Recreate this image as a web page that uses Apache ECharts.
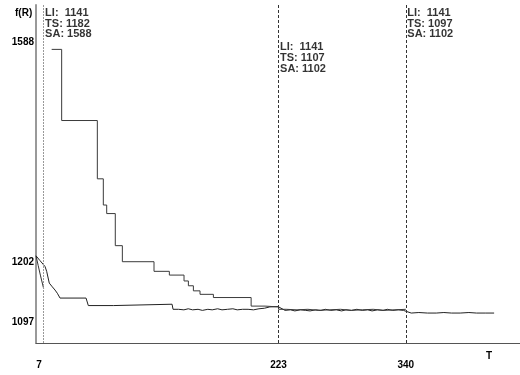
<!DOCTYPE html>
<html><head><meta charset="utf-8">
<script src="https://cdn.jsdelivr.net/npm/echarts@6/dist/echarts.min.js"></script>
<style>html,body{margin:0;padding:0;background:#fff}#c{width:520px;height:375px}</style>
</head><body><div id="c"></div>
<script>
// ---- data ----
const xTicks = [7, 223, 340];
const yTicks = [1097, 1202, 1588];
const yAxisTitle = 'f(R)';
const xAxisTitle = 'T';

const liSeries = [[0,1202],[2,1184],[4,1166],[7,1141]];

const tsSeries = [[0,1202],[3.7,1193],[8.3,1182],[9.8,1173],[12.2,1151],[15,1144],[17.5,1138],[19.6,1132],[22.1,1123],
 [46,1123],[48.1,1109],[71.1,1109],[71.7,1111.5],[125.1,1111.5],[126,1102],
 [131,1102],[136,1101],[140,1103],[144,1101],[149,1102],[153,1100],[158,1102],[162,1101],[167,1103],[171,1101],
 [176,1102],[181,1103],[185,1101],[190,1102],[195,1102],[200,1101],[205,1103],[210,1104],[215,1106.5],[222.6,1107],
 [229,1100],[234,1101],[238,1099],[243,1101],[248,1100],[252,1099],[257,1101],[262,1100],[266,1102],[271,1100],
 [276,1101],[281,1099],[285,1101],[290,1100],[295,1102],[300,1100],[305,1101],[309,1099],[314,1101],[319,1100],
 [323,1102],[328,1100],[333,1101],[337.8,1100],[339.4,1097],[345,1095],[352,1096],[360,1095],[368,1095],
 [375,1096],[382,1095],[390,1095],[398,1096],[405,1095],[413,1095],[421.2,1095]];

const saSeries = [[14.4,1588],[23.6,1455],[56.4,1346],[61.9,1297],[65,1281],[72.9,1221],[79.4,1191],[108.5,1173],
 [122.6,1166],[136.1,1155],[140.1,1146],[144.7,1136.5],[150.8,1130],[163.1,1124],[197.8,1108],[210.6,1106.5],
 [223,1102],[230,1101],[240,1102],[250,1100],[260,1101],[270,1102],[280,1100],[290,1101],[300,1102],[310,1100],
 [320,1101],[330,1102],[340,1102]];

const annoX  = [7, 223, 340];
const annoLI = [1141, 1141, 1141];
const annoTS = [1182, 1107, 1097];
const annoSA = [1588, 1102, 1102];

// ---- chart ----
const FONT = "'Liberation Sans Narrow','Arial Narrow','Liberation Sans',Arial,sans-serif";
const chart = echarts.init(document.getElementById('c'), null, {renderer:'canvas'});

const annoTopY = 1636, annoMidY = 1572;
const annoData = annoX.map((x,i)=>({
  value:[x, i===1 ? annoMidY : annoTopY],
  label:{formatter:'LI:  '+annoLI[i]+'\nTS: '+annoTS[i]+'\nSA: '+annoSA[i]}
}));

const yShift = {1588:-7, 1202:6, 1097:10};
const base = {fontFamily:FONT, fontWeight:'bold', fontSize:10, color:'#000'};

chart.setOption({
  animation:false,
  backgroundColor:'#fff',
  grid:{left:36, right:0, top:5, bottom:32, containLabel:false},
  xAxis:{type:'value', min:0, max:445,
    axisLine:{lineStyle:{color:'#555', width:1}},
    axisTick:{show:false}, splitLine:{show:false},
    axisLabel:{customValues:xTicks, margin:17, color:'#000', fontFamily:FONT, fontWeight:'bold', fontSize:10,
      formatter:v=> v===7 ? '{l|'+v+'}' : '{n|'+v+'}',
      rich:{l:Object.assign({padding:[0,9,0,0]}, base), n:Object.assign({}, base)}}
  },
  yAxis:{type:'value', min:1039, max:1671,
    axisLine:{show:true, lineStyle:{color:'#999', width:2}},
    axisTick:{show:false}, splitLine:{show:false},
    axisLabel:{customValues:yTicks, margin:2, color:'#000', fontFamily:FONT, fontWeight:'bold', fontSize:10,
      formatter:v=>{const d=yShift[v]||0; return d<0?'{u'+(-d)+'|'+v+'}':'{d'+d+'|'+v+'}';},
      rich:{
        u7:Object.assign({padding:[0,0,14,0]}, base),
        d6:Object.assign({padding:[12,0,0,0]}, base),
        d10:Object.assign({padding:[20,0,0,0]}, base),
        d0:Object.assign({}, base)
      }}
  },
  graphic:[
    {type:'text', left:15, top:8, style:{text:yAxisTitle, font:'bold 10px '+FONT, fill:'#000'}},
    {type:'text', left:486, top:351, style:{text:xAxisTitle, font:'bold 10px '+FONT, fill:'#000'}}
  ],
  series:[
    {name:'LI', type:'line', data:liSeries, showSymbol:false, lineStyle:{color:'#333', width:1}, z:3,
     markLine:{silent:true, symbol:'none', label:{show:false},
       data:[
         {xAxis:annoX[0], lineStyle:{color:'#999', type:[2,1], width:1}},
         {xAxis:annoX[1], lineStyle:{color:'#333', type:[3,2], width:1}},
         {xAxis:annoX[2], lineStyle:{color:'#333', type:[3,2], width:1}}
       ]}},
    {name:'TS', type:'line', data:tsSeries, showSymbol:false, lineStyle:{color:'#222', width:1}, z:3},
    {name:'SA', type:'line', step:'end', data:saSeries, showSymbol:false, lineStyle:{color:'#3a3a3a', width:1}, z:3},
    {name:'notes', type:'scatter', symbolSize:0, data:annoData, silent:true,
     label:{show:true, position:'right', distance:1.5, align:'left', verticalAlign:'middle',
       fontFamily:FONT, fontWeight:'bold', fontSize:11, lineHeight:10.7, color:'#000'}}
  ]
});
</script></body></html>
